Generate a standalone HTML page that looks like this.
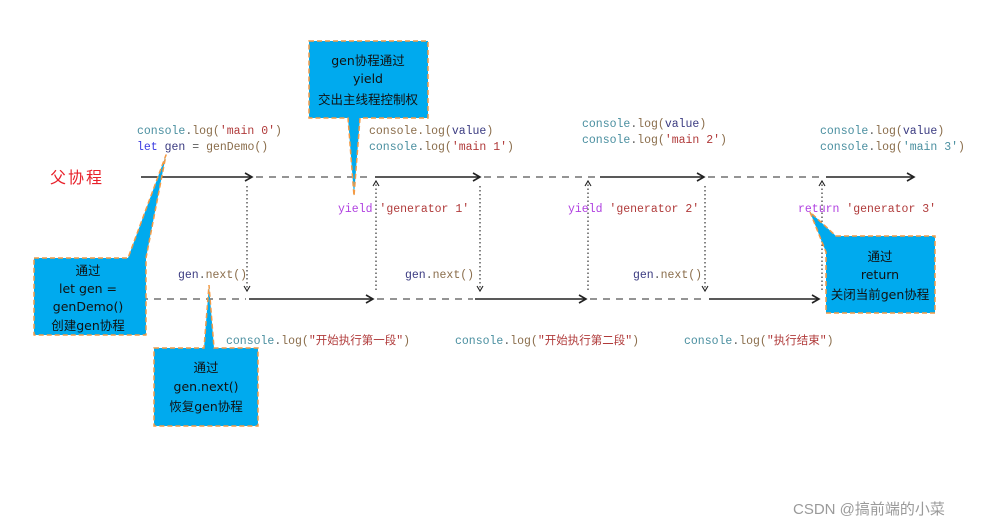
<!DOCTYPE html>
<html><head><meta charset="utf-8"><style>
html,body{margin:0;padding:0;background:#fff;}
svg{display:block;}
.c{font-family:"Liberation Mono","DejaVu Sans Mono","Noto Sans CJK SC",monospace;font-size:11.5px;}
.t{font-family:"DejaVu Sans","Liberation Sans","Noto Sans CJK SC",sans-serif;font-size:12.5px;fill:#111;}
.k{fill:#4a8fa0}.l{fill:#8a6d4b}.s{fill:#b03a3a}.v{fill:#3a3a80}.p{fill:#5a5a5a}.y{fill:#b040e0}.b{fill:#3a3ae0}
</style></head><body>
<svg width="999" height="526" viewBox="0 0 999 526" xmlns="http://www.w3.org/2000/svg">
<defs>
<marker id="a" markerWidth="10" markerHeight="10" refX="8" refY="5" orient="auto" markerUnits="userSpaceOnUse"><path d="M1,1 L8,5 L1,9" fill="none" stroke="#222" stroke-width="1.6"/></marker>
<marker id="s" markerWidth="8" markerHeight="8" refX="6" refY="4" orient="auto" markerUnits="userSpaceOnUse"><path d="M1,1 L6,4 L1,7" fill="none" stroke="#222" stroke-width="1.1"/></marker>
</defs>
<g stroke="#222" stroke-width="1.6" fill="none">
<line x1="141" y1="177" x2="252" y2="177" marker-end="url(#a)"/>
<line x1="375" y1="177" x2="480" y2="177" marker-end="url(#a)"/>
<line x1="600" y1="177" x2="704" y2="177" marker-end="url(#a)"/>
<line x1="826" y1="177" x2="914" y2="177" marker-end="url(#a)"/>
<line x1="249" y1="299" x2="373" y2="299" marker-end="url(#a)"/>
<line x1="475" y1="299" x2="586" y2="299" marker-end="url(#a)"/>
<line x1="709" y1="299" x2="819" y2="299" marker-end="url(#a)"/>
</g>
<g stroke="#555" stroke-width="1.3" stroke-dasharray="7,6" fill="none">
<line x1="256" y1="177" x2="372" y2="177"/>
<line x1="484" y1="177" x2="598" y2="177"/>
<line x1="708" y1="177" x2="823" y2="177"/>
<line x1="141" y1="299" x2="246" y2="299"/>
<line x1="377" y1="299" x2="473" y2="299"/>
<line x1="590" y1="299" x2="707" y2="299"/>
</g>
<g stroke="#333" stroke-width="1.2" stroke-dasharray="1.5,2.5" fill="none">
<line x1="247" y1="186" x2="247" y2="291" marker-end="url(#s)"/>
<line x1="376" y1="290" x2="376" y2="181" marker-end="url(#s)"/>
<line x1="480" y1="186" x2="480" y2="291" marker-end="url(#s)"/>
<line x1="588" y1="290" x2="588" y2="181" marker-end="url(#s)"/>
<line x1="705" y1="186" x2="705" y2="291" marker-end="url(#s)"/>
<line x1="822" y1="290" x2="822" y2="181" marker-end="url(#s)"/>
</g>
<g fill="#00aaee" stroke="#f39a45" stroke-width="1.5" stroke-dasharray="5,3">
<path d="M309,41 H428 V118 H360 L354,196 L348,118 H309 Z"/>
<path d="M34,258 H128 L166,155 L146,258 V335 H34 Z" stroke-linejoin="round"/>
<path d="M154,348 H204 L209,285 L214,348 H258 V426 H154 Z"/>
<path d="M836,236 H935 V313 H826 V252 L810,212 Z"/>
</g>
<text x="50" y="183" font-family="'Noto Sans CJK SC',sans-serif" font-size="16" fill="#e8202a" letter-spacing="2">父协程</text>
<g class="t" text-anchor="middle">
<text x="368" y="65">gen协程通过</text><text x="368" y="83">yield</text><text x="368" y="104">交出主线程控制权</text>
<text x="88" y="275">通过</text><text x="88" y="293">let gen =</text><text x="88" y="311">genDemo()</text><text x="88" y="330">创建gen协程</text>
<text x="206" y="372">通过</text><text x="206" y="391">gen.next()</text><text x="206" y="411">恢复gen协程</text>
<text x="880" y="261">通过</text><text x="880" y="279">return</text><text x="880" y="299">关闭当前gen协程</text>
</g>
<g class="c">
<text x="137" y="134"><tspan class="k">console</tspan><tspan class="p">.</tspan><tspan class="l">log(</tspan><tspan class="s">'main 0'</tspan><tspan class="l">)</tspan></text>
<text x="137" y="150"><tspan class="b">let</tspan> <tspan class="v">gen</tspan><tspan class="p"> = </tspan><tspan class="l">genDemo()</tspan></text>
<text x="369" y="134"><tspan class="l">console.log(</tspan><tspan class="v">value</tspan><tspan class="l">)</tspan></text>
<text x="369" y="150"><tspan class="k">console</tspan><tspan class="p">.</tspan><tspan class="l">log(</tspan><tspan class="s">'main 1'</tspan><tspan class="l">)</tspan></text>
<text x="582" y="127"><tspan class="k">console</tspan><tspan class="p">.</tspan><tspan class="l">log(</tspan><tspan class="v">value</tspan><tspan class="l">)</tspan></text>
<text x="582" y="143"><tspan class="k">console</tspan><tspan class="p">.</tspan><tspan class="l">log(</tspan><tspan class="s">'main 2'</tspan><tspan class="l">)</tspan></text>
<text x="820" y="134"><tspan class="k">console</tspan><tspan class="p">.</tspan><tspan class="l">log(</tspan><tspan class="v">value</tspan><tspan class="l">)</tspan></text>
<text x="820" y="150"><tspan class="k">console</tspan><tspan class="p">.</tspan><tspan class="l">log(</tspan><tspan class="k">'main 3'</tspan><tspan class="l">)</tspan></text>
<text x="338" y="212"><tspan class="y">yield</tspan> <tspan class="s">'generator 1'</tspan></text>
<text x="568" y="212"><tspan class="y">yield</tspan> <tspan class="s">'generator 2'</tspan></text>
<text x="798" y="212"><tspan class="y">return</tspan> <tspan class="s">'generator 3'</tspan></text>
<text x="178" y="278"><tspan class="v">gen</tspan><tspan class="p">.</tspan><tspan class="l">next()</tspan></text>
<text x="405" y="278"><tspan class="v">gen</tspan><tspan class="p">.</tspan><tspan class="l">next()</tspan></text>
<text x="633" y="278"><tspan class="v">gen</tspan><tspan class="p">.</tspan><tspan class="l">next()</tspan></text>
<text x="226" y="344"><tspan class="k">console</tspan><tspan class="p">.</tspan><tspan class="l">log(</tspan><tspan class="s">"开始执行第一段"</tspan><tspan class="l">)</tspan></text>
<text x="455" y="344"><tspan class="k">console</tspan><tspan class="p">.</tspan><tspan class="l">log(</tspan><tspan class="s">"开始执行第二段"</tspan><tspan class="l">)</tspan></text>
<text x="684" y="344"><tspan class="k">console</tspan><tspan class="p">.</tspan><tspan class="l">log(</tspan><tspan class="s">"执行结束"</tspan><tspan class="l">)</tspan></text>
</g>
<text x="793" y="514" font-family="'Liberation Sans','Noto Sans CJK SC',sans-serif" font-size="15" fill="#9a9a9a">CSDN @搞前端的小菜</text>
</svg>
</body></html>
